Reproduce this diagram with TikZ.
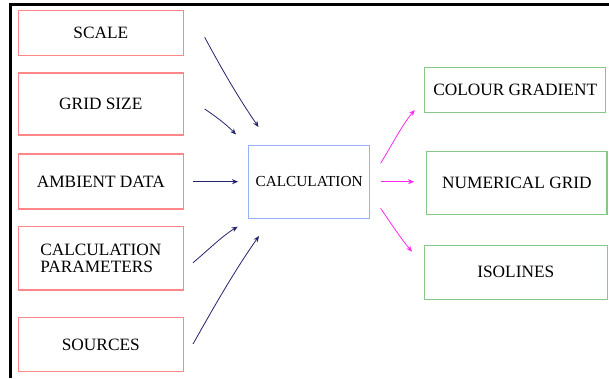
\documentclass[tikz,border=0pt]{standalone}
\usepackage{fontspec}
\setmainfont{Liberation Serif}
\usetikzlibrary{arrows.meta}
\definecolor{boxred}{RGB}{255,135,135}
\definecolor{boxblue}{RGB}{150,175,255}
\definecolor{boxgreen}{RGB}{135,200,135}
\definecolor{navy}{RGB}{35,35,110}
\definecolor{pinkarrow}{RGB}{255,40,240}
\begin{document}
\begin{tikzpicture}[x=1pt,y=-1pt,
  inbox/.style={draw=boxred,line width=1.1pt,rectangle,inner sep=0pt,minimum width=165pt,font=\fontsize{17.3}{17.5}\selectfont,align=left},
  calcbox/.style={draw=boxblue,line width=1.1pt,rectangle,inner sep=0pt,minimum width=121pt,minimum height=72.6pt,font=\fontsize{15.3}{17}\selectfont},
  outbox/.style={draw=boxgreen,line width=1.1pt,rectangle,inner sep=0pt,font=\fontsize{17.3}{19}\selectfont},
  inarrow/.style={draw=navy,line width=0.8pt,-{Stealth[length=6pt,width=5pt]}},
  outarrow/.style={draw=pinkarrow,line width=0.8pt,-{Stealth[length=6pt,width=5pt]}}]
\useasboundingbox (0,0) rectangle (609,378);
% frame
\draw[line width=2.6pt,black] (609,4.7) -- (10.6,4.7) -- (10.6,378);
% input boxes
\node[inbox,minimum height=44.3pt] (scale) at (100.8,32.9) {SCALE};
\node[inbox,minimum height=62pt] (grid) at (100.8,104) {GRID SIZE};
\node[inbox,minimum height=55pt] (amb) at (100.8,181.5) {AMBIENT DATA};
\node[inbox,minimum height=63.3pt] (param) at (100.8,258.3) {CALCULATION\\PARAMETERS};
\node[inbox,minimum height=54pt] (src) at (100.8,344.7) {SOURCES};
% calculation
\node[calcbox] (calc) at (309.1,182) {CALCULATION};
% outputs
\node[outbox,minimum width=181.3pt,minimum height=45pt] (colour) at (515.2,89.8) {COLOUR GRADIENT};
\node[outbox,minimum width=180.2pt,minimum height=62.6pt] (num) at (516.9,183) {NUMERICAL GRID};
\node[outbox,minimum width=182.5pt,minimum height=54.3pt] (iso) at (515.8,272.2) {ISOLINES};
% arrow endpoints
\coordinate (s1) at (204.7,37.3);  \coordinate (e1) at (258.5,127);
\coordinate (s2) at (204.7,109);   \coordinate (e2) at (236,134.5);
\coordinate (s3) at (193,181.7);   \coordinate (e3) at (238,181.7);
\coordinate (s4) at (193,262.7);   \coordinate (e4) at (237.7,226.7);
\coordinate (s5) at (193,344);     \coordinate (e5) at (259,236);
\coordinate (o1) at (380.6,163.3); \coordinate (t1) at (414.8,110);
\coordinate (o2) at (380.6,181.7); \coordinate (t2) at (414,181.7);
\coordinate (o3) at (380.6,208.3); \coordinate (t3) at (412,251.7);
% input arrows
\draw[inarrow] (s1) .. controls (225,75) and (240,100) .. (e1);
\draw[inarrow] (s2) .. controls (215,116) and (226,124) .. (e2);
\draw[inarrow] (s3) -- (e3);
\draw[inarrow] (s4) .. controls (206,252) and (222,236) .. (e4);
\draw[inarrow] (s5) .. controls (215,305) and (235,270) .. (e5);
% output arrows
\draw[outarrow] (o1) .. controls (392,145) and (402,125) .. (t1);
\draw[outarrow] (o2) -- (t2);
\draw[outarrow] (o3) .. controls (392,225) and (402,240) .. (t3);
\end{tikzpicture}
\end{document}
